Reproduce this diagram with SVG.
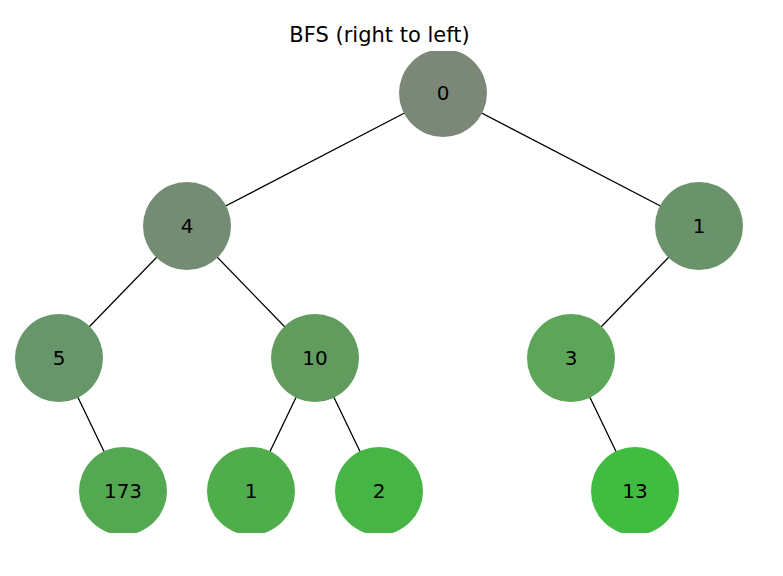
<svg xmlns="http://www.w3.org/2000/svg" width="783" height="576" viewBox="0 0 783 576">
<style>
.e{stroke:#000;stroke-width:1.3;fill:none}
.t{font-family:"DejaVu Sans",sans-serif;font-size:20px;text-anchor:middle;dominant-baseline:central;fill:#000}
.title{font-family:"DejaVu Sans",sans-serif;font-size:21px;text-anchor:middle;fill:#000}
</style>
<defs><clipPath id="ax"><rect x="0" y="51" width="783" height="482"/></clipPath></defs>
<rect width="783" height="576" fill="#fff"/>
<text class="title" x="379.5" y="42">BFS (right to left)</text>
<g clip-path="url(#ax)">
<g id="edges">
<line class="e" x1="443" y1="93" x2="187" y2="226"/>
<line class="e" x1="443" y1="93" x2="699" y2="226"/>
<line class="e" x1="187" y1="226" x2="59" y2="358"/>
<line class="e" x1="187" y1="226" x2="315" y2="358"/>
<line class="e" x1="699" y1="226" x2="571" y2="358"/>
<line class="e" x1="59" y1="358" x2="123" y2="491"/>
<line class="e" x1="315" y1="358" x2="251" y2="491"/>
<line class="e" x1="315" y1="358" x2="379" y2="491"/>
<line class="e" x1="571" y1="358" x2="635" y2="491"/>
</g>
<g id="n0"><circle cx="443" cy="93" r="44" fill="#7b8877"/><text class="t" x="443" y="93">0</text></g>
<g id="n4"><circle cx="187" cy="226" r="44" fill="#748c73"/><text class="t" x="187" y="226">4</text></g>
<g id="n1a"><circle cx="699" cy="226" r="44" fill="#6b936b"/><text class="t" x="699" y="226">1</text></g>
<g id="n5"><circle cx="59" cy="358" r="44" fill="#67966a"/><text class="t" x="59" y="358">5</text></g>
<g id="n10"><circle cx="315" cy="358" r="44" fill="#619b5e"/><text class="t" x="315" y="358">10</text></g>
<g id="n3"><circle cx="571" cy="358" r="44" fill="#5ca559"/><text class="t" x="571" y="358">3</text></g>
<g id="n173"><circle cx="123" cy="491" r="44" fill="#55a852"/><text class="t" x="123" y="491">173</text></g>
<g id="n1b"><circle cx="251" cy="491" r="44" fill="#4fad4c"/><text class="t" x="251" y="491">1</text></g>
<g id="n2"><circle cx="379" cy="491" r="44" fill="#47b545"/><text class="t" x="379" y="491">2</text></g>
<g id="n13"><circle cx="635" cy="491" r="44" fill="#40bd40"/><text class="t" x="635" y="491">13</text></g>
</g>
</svg>
